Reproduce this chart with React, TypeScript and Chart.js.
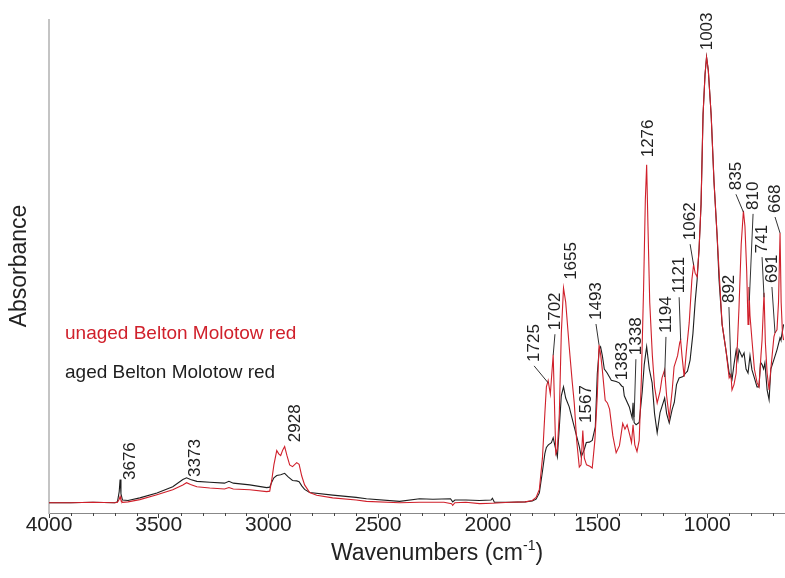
import { useEffect, useRef } from "react";
import { Chart, registerables } from "chart.js";

Chart.register(...registerables);

const FONT = "'Liberation Sans', Arial, sans-serif";

// unaged Belton Molotow red (red trace)
const unagedWn = [
  4000, 3900, 3800, 3700, 3688, 3680, 3676, 3672, 3665, 3640, 3586, 3508, 3436, 3390, 3373, 3355, 3326, 3267, 3200, 3180,
  3160, 3085, 3008, 2994, 2985, 2975, 2962, 2952, 2944, 2935, 2926, 2915, 2903, 2890, 2871, 2860, 2848, 2835, 2812, 2780,
  2707, 2600, 2553, 2402, 2311, 2200, 2165, 2160, 2150, 2100, 2038, 1979, 1900, 1830, 1797, 1780, 1765, 1751, 1740, 1733,
  1725, 1715, 1702, 1695, 1690, 1683, 1674, 1665, 1655, 1645, 1629, 1615, 1606, 1595, 1583, 1575, 1567, 1560, 1550, 1535,
  1524, 1512, 1501, 1493, 1485, 1478, 1465, 1455, 1445, 1430, 1415, 1400, 1385, 1375, 1365, 1352, 1345, 1338, 1330, 1320,
  1310, 1300, 1290, 1282, 1276, 1270, 1262, 1250, 1240, 1228, 1215, 1206, 1194, 1185, 1173, 1160, 1151, 1135, 1125, 1121,
  1115, 1105, 1095, 1082, 1070, 1062, 1055, 1046, 1037, 1028, 1019, 1010, 1003, 995, 982, 969, 955, 946, 932, 914,
  900, 892, 887, 878, 868, 855, 845, 835, 828, 820, 814, 810, 805, 796, 785, 773, 764, 755, 750, 741,
  735, 727, 718, 710, 696, 691, 682, 675, 668, 663, 657, 652,
];
const unagedAbs = [
  0, 0, 0.1, 0, 0.1, 0.8, 1.4, 0.6, 0.1, 0.2, 0.7, 1.8, 2.9, 4.0, 4.5, 4.1, 3.6, 3.3, 3.1, 3.4,
  3.1, 2.9, 2.5, 2.6, 5.0, 8.5, 11.7, 10.9, 10.6, 11.8, 12.6, 10.5, 8.5, 8.1, 9.0, 8.6, 6.0, 4.0, 2.3, 1.7,
  1.1, 0.6, 0.3, 0.0, 0.1, 0.1, -0.2, -0.6, 0, 0.1, -0.2, -0.1, 0.1, 0.2, 0.5, 1.2, 3.0, 10, 20, 26,
  27.4, 24.4, 33.2, 20, 11, 12, 20, 38, 48.2, 45, 35, 27, 22.4, 14, 8.0, 8.5, 16.2, 10, 8.5, 8.2,
  7.8, 14, 24, 35.4, 33, 29.8, 23, 22.4, 21, 15, 11.2, 12.8, 17.8, 16.5, 17.5, 15, 13.5, 17.5, 13, 11.5,
  14, 28, 48, 68, 75.8, 62, 45, 33, 26, 22.4, 25, 28, 29.8, 24, 19.0, 25, 30.5, 33, 36, 36.5,
  33, 28.3, 34, 40.4, 50, 53.4, 51.5, 50.7, 57, 67, 87, 96, 100, 97, 87, 72, 60, 52, 40, 34,
  28, 28.8, 25.3, 26.5, 29.1, 43.9, 58, 65.5, 62, 52, 40, 48.4, 42, 36.5, 30, 27, 26, 33, 36.5, 47.1,
  36, 29.1, 25.3, 30, 37.2, 38.1, 38.8, 45, 60.5, 45, 38, 36.5,
];

// aged Belton Molotow red (black trace)
const agedWn = [
  4000, 3900, 3800, 3700, 3688, 3680, 3676, 3672, 3665, 3640, 3586, 3508, 3436, 3390, 3373, 3355, 3326, 3267, 3200, 3180,
  3160, 3085, 3008, 2994, 2985, 2975, 2962, 2944, 2926, 2910, 2890, 2871, 2860, 2848, 2835, 2812, 2707, 2600, 2553, 2402,
  2311, 2250, 2170, 2160, 2150, 2100, 2038, 1985, 1979, 1970, 1900, 1830, 1797, 1780, 1765, 1751, 1740, 1733, 1724, 1710,
  1702, 1695, 1683, 1674, 1665, 1655, 1645, 1629, 1606, 1583, 1574, 1560, 1551, 1537, 1524, 1510, 1501, 1492, 1486, 1478,
  1469, 1456, 1437, 1415, 1401, 1390, 1383, 1378, 1355, 1342, 1338, 1333, 1324, 1310, 1296, 1287, 1276, 1264, 1251, 1240,
  1228, 1215, 1194, 1185, 1173, 1160, 1150, 1140, 1128, 1110, 1100, 1090, 1078, 1065, 1055, 1046, 1037, 1028, 1019, 1010,
  1003, 995, 982, 969, 955, 946, 932, 914, 900, 887, 878, 868, 860, 855, 841, 832, 823, 814, 805, 796,
  785, 773, 764, 757, 750, 743, 737, 727, 718, 710, 696, 682, 668, 664, 652,
];
const agedAbs = [
  0, 0, 0.1, 0, 0.2, 2.5, 5.2, 2.0, 0.6, 0.5, 1.1, 2.2, 3.6, 5.2, 5.6, 5.2, 4.8, 4.6, 4.4, 4.8,
  4.4, 4.0, 3.4, 3.5, 4.6, 5.6, 6.1, 6.3, 6.6, 5.8, 5.0, 4.9, 4.7, 3.8, 3.0, 2.3, 1.7, 1.2, 0.9, 0.3,
  0.9, 0.8, 0.9, 0.2, 0.6, 0.6, 0.5, 0.6, 1.0, 0.1, 0.1, 0.2, 0.4, 0.8, 2.2, 7, 11, 12.4, 13, 13.5,
  14.6, 13, 10.3, 17, 24, 26, 23.5, 21.5, 17, 12.6, 10.3, 12, 13.5, 13.6, 14, 17, 29, 34.5, 35, 33,
  30, 29.1, 27.5, 27.2, 26.9, 26.2, 26, 24, 21.5, 19, 22.4, 18, 17.5, 18, 25, 31, 35, 30, 26.9, 20,
  15.7, 20.2, 23.5, 20, 17.9, 20.9, 22.5, 26.5, 28, 28.3, 29, 29.5, 32, 38, 45, 50, 57, 67, 87, 96,
  100, 97, 87, 72, 60, 50, 40, 34, 29.1, 27.6, 31, 34.3, 32, 34.3, 32.7, 33.6, 30, 29.1, 33, 29.8,
  28, 26, 26, 31.5, 31, 30, 31.4, 25.3, 23.1, 30, 32.1, 34.3, 37, 36.5, 40,
];

const seriesNames = ["unaged Belton Molotow red", "aged Belton Molotow red"];
const seriesColors = ["#d0202b", "#1e1e1e"];

const xTickValues = [4000, 3500, 3000, 2500, 2000, 1500, 1000];
const xMinorStep = 100;

// peak annotations: label text, label anchor (bottom of rotated text) and leader target, in data units
const peakLabels = ["3676", "3373", "2928", "1725", "1702", "1655", "1567", "1493", "1383", "1338", "1276",
  "1194", "1121", "1062", "1003", "892", "835", "810", "741", "691", "668"];
const peakLabelWn = [3631, 3335, 2879, 1789, 1694, 1621, 1552, 1507, 1388, 1325, 1270,
  1188, 1128, 1078, 1001, 901, 869, 791, 750, 705, 691];
const peakLabelAbs = [5.1, 5.8, 13.6, 31.6, 38.7, 50.0, 17.9, 41.0, 27.5, 33.1, 77.5,
  38.1, 47.0, 58.9, 101.5, 44.8, 70.1, 65.7, 56.0, 49.3, 65.0];
const leaderWn: (number | null)[] = [null, null, null, 1725, 1702, null, null, 1493, null, 1333, null,
  1194, 1121, 1062, null, 890, 835, 808, 741, 691, 668];
const leaderAbs: (number | null)[] = [null, null, null, 26.9, 33.1, null, null, 35.4, null, 19.2, null,
  28.2, 36.5, 53.3, null, 28.2, 65.2, 45.4, 46.1, 38.1, 60.5];

const xTitle = "Wavenumbers (cm";
const xTitleSup = "-1";
const yTitle = "Absorbance";

const annotationPlugin = {
  id: "annotations",
  afterDraw(chart: any) {
    const { ctx, scales } = chart;
    const xs = scales.x;
    const ys = scales.y;
    const area = chart.chartArea;

    // minor ticks
    ctx.save();
    ctx.strokeStyle = "#444";
    ctx.lineWidth = 1;
    ctx.beginPath();
    for (let v = Math.ceil(xs.min / xMinorStep) * xMinorStep; v <= xs.max; v += xMinorStep) {
      if (v % 500 === 0) continue;
      const px = Math.round(xs.getPixelForValue(v)) + 0.5;
      ctx.moveTo(px, area.bottom);
      ctx.lineTo(px, area.bottom + 3);
    }
    ctx.stroke();
    ctx.restore();

    // peak labels
    ctx.save();
    ctx.font = `17px ${FONT}`;
    ctx.fillStyle = "#222";
    ctx.strokeStyle = "#333";
    ctx.lineWidth = 1;
    peakLabels.forEach((t, i) => {
      const x = xs.getPixelForValue(peakLabelWn[i]);
      const y = ys.getPixelForValue(peakLabelAbs[i]);
      ctx.save();
      ctx.translate(x, y);
      ctx.rotate(-Math.PI / 2);
      ctx.textAlign = "left";
      ctx.textBaseline = "middle";
      ctx.fillText(t, 0, 0);
      ctx.restore();
      const lw = leaderWn[i];
      const la = leaderAbs[i];
      if (lw !== null && la !== null) {
        ctx.beginPath();
        ctx.moveTo(x, y + 4);
        ctx.lineTo(xs.getPixelForValue(lw), ys.getPixelForValue(la));
        ctx.stroke();
      }
    });
    ctx.restore();

    // legend texts
    ctx.save();
    ctx.font = `19px ${FONT}`;
    ctx.textAlign = "left";
    ctx.textBaseline = "middle";
    ctx.fillStyle = seriesColors[0];
    ctx.fillText(seriesNames[0], area.left + 16, 334);
    ctx.fillStyle = seriesColors[1];
    ctx.fillText(seriesNames[1], area.left + 16, 373);
    ctx.restore();

    // axis titles
    ctx.save();
    ctx.fillStyle = "#222";
    ctx.textBaseline = "middle";
    ctx.font = `23px ${FONT}`;
    const w1 = ctx.measureText(xTitle).width;
    ctx.font = `14px ${FONT}`;
    const w2 = ctx.measureText(xTitleSup).width;
    ctx.font = `23px ${FONT}`;
    const w3 = ctx.measureText(")").width;
    const total = w1 + w2 + w3;
    const cx = 437;
    const cy = 554;
    let sx = cx - total / 2;
    ctx.textAlign = "left";
    ctx.fillText(xTitle, sx, cy);
    sx += w1;
    ctx.font = `14px ${FONT}`;
    ctx.fillText(xTitleSup, sx, cy - 8);
    sx += w2;
    ctx.font = `23px ${FONT}`;
    ctx.fillText(")", sx, cy);

    ctx.translate(20, 266);
    ctx.rotate(-Math.PI / 2);
    ctx.textAlign = "center";
    ctx.fillText(yTitle, 0, 0);
    ctx.restore();
  },
};

export default function App() {
  const ref = useRef<HTMLCanvasElement | null>(null);
  useEffect(() => {
    document.body.style.margin = "0";
    const canvas = ref.current;
    if (!canvas) return;
    const chart = new Chart(canvas, {
      type: "line",
      data: {
        datasets: [
          {
            label: seriesNames[0],
            data: unagedWn.map((w, i) => ({ x: w, y: unagedAbs[i] })),
            borderColor: seriesColors[0],
            borderWidth: 1.1,
            pointRadius: 0,
            tension: 0,
          },
          {
            label: seriesNames[1],
            data: agedWn.map((w, i) => ({ x: w, y: agedAbs[i] })),
            borderColor: seriesColors[1],
            borderWidth: 1.1,
            pointRadius: 0,
            tension: 0,
          },
        ],
      },
      options: {
        responsive: false,
        animation: false,
        events: [],
        layout: { padding: { top: 20, right: 1, left: 0, bottom: 0 } },
        plugins: { legend: { display: false }, tooltip: { enabled: false }, title: { display: false } },
        scales: {
          x: {
            type: "linear",
            reverse: true,
            min: 650,
            max: 4000,
            afterBuildTicks: (s: any) => {
              s.ticks = xTickValues.map((v) => ({ value: v }));
            },
            afterFit: (s: any) => {
              s.height = 65;
            },
            ticks: {
              font: { family: FONT, size: 21 },
              color: "#222",
              padding: -5,
              maxRotation: 0,
              autoSkip: false,
              callback: (v: any) => String(v),
            },
            grid: { display: true, drawOnChartArea: false, drawTicks: true, tickLength: 5, color: "#444" },
            border: { display: true, color: "#888", width: 1 },
          },
          y: {
            type: "linear",
            min: -2.3,
            max: 108.3,
            ticks: { display: false },
            grid: { display: false },
            border: { display: true, color: "#c4c4c4", width: 2 },
            afterFit: (s: any) => {
              s.width = 49;
            },
          },
        },
      },
      plugins: [annotationPlugin],
    });
    return () => chart.destroy();
  }, []);
  return <canvas ref={ref} width={785} height={578} style={{ display: "block" }} />;
}
